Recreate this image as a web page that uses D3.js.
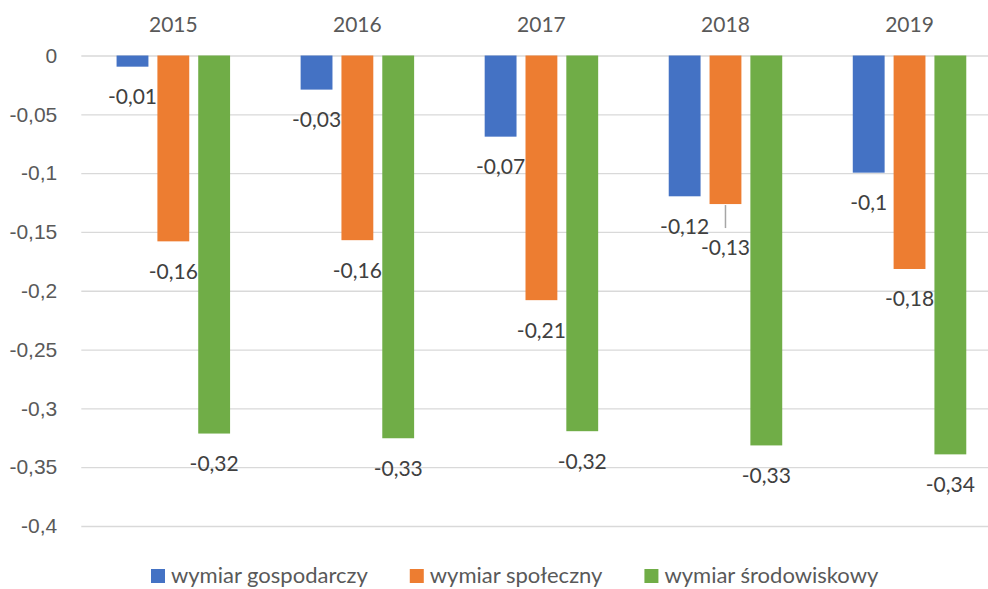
<!DOCTYPE html>
<html>
<head>
<meta charset="utf-8">
<script src="https://cdn.jsdelivr.net/npm/d3@7"></script>
<style>
  body { margin: 0; background: #fff; }
  svg { display: block; font-family: Lato, "Open Sans", sans-serif; }
</style>
</head>
<body>
<svg id="chart" width="988" height="589"></svg>
<script>
// data
const years = ["2015", "2016", "2017", "2018", "2019"];
const seriesNames = ["wymiar gospodarczy", "wymiar społeczny", "wymiar środowiskowy"];
const gospodarczy = [-0.0095, -0.029, -0.069, -0.1197, -0.0996];
const spoleczny = [-0.158, -0.157, -0.208, -0.1263, -0.1815];
const srodowiskowy = [-0.3214, -0.3254, -0.3194, -0.3315, -0.3391];
const yTicks = [0, -0.05, -0.1, -0.15, -0.2, -0.25, -0.3, -0.35, -0.4];

const colors = ["#4472C4", "#ED7D31", "#70AD47"];
const values = [gospodarczy, spoleczny, srodowiskowy];

const margin = { left: 81.3, top: 55.5 };
const plotW = 920.25, plotH = 470.5;
const fmt = v => String(+v.toFixed(2)).replace(".", ",");

const svg = d3.select("#chart");
const g = svg.append("g").attr("transform", `translate(${margin.left},${margin.top})`);

const x0 = d3.scaleBand().domain(years).range([0, plotW]);
const groupW = 113.5;
const x1 = d3.scaleBand().domain(seriesNames).range([0, groupW]).paddingInner(0.22);
const y = d3.scaleLinear().domain([0, -0.4]).range([0, plotH]);

// y axis + gridlines
const yAxis = g.append("g")
  .call(d3.axisLeft(y).tickValues(yTicks).tickSize(-(988 - margin.left)).tickFormat(fmt));
yAxis.select(".domain").remove();
yAxis.selectAll("line").attr("stroke", "#D9D9D9").attr("stroke-width", 1.3);
yAxis.selectAll("text")
  .attr("x", -24)
  .attr("fill", "#595959")
  .style("font-size", "21px");

// category labels on top
g.append("g").selectAll("text")
  .data(years)
  .join("text")
  .attr("x", d => x0(d) + x0.bandwidth() / 2)
  .attr("y", -31)
  .attr("dy", "0.35em")
  .attr("text-anchor", "middle")
  .attr("fill", "#595959")
  .style("font-size", "21px")
  .text(d => d);

const offset = (x0.bandwidth() - groupW) / 2;

const rows = [];
years.forEach((yr, i) => {
  seriesNames.forEach((s, j) => {
    rows.push({ year: yr, series: s, value: values[j][i], color: colors[j] });
  });
});

const groups = g.append("g");
groups.selectAll("rect")
  .data(rows)
  .join("rect")
  .attr("x", d => x0(d.year) + offset + x1(d.series))
  .attr("y", y(0))
  .attr("width", x1.bandwidth())
  .attr("height", d => y(d.value) - y(0))
  .attr("fill", d => d.color);

// data labels; the 2018 społeczny label was pushed down with a leader line
const isMoved = d => d.year === "2018" && d.series === seriesNames[1];
const labelGap = 30, movedGap = 44;

groups.selectAll("line.leader")
  .data(rows.filter(isMoved))
  .join("line")
  .attr("class", "leader")
  .attr("x1", d => x0(d.year) + offset + x1(d.series) + x1.bandwidth() / 2)
  .attr("x2", d => x0(d.year) + offset + x1(d.series) + x1.bandwidth() / 2)
  .attr("y1", d => y(d.value) + 1)
  .attr("y2", d => y(d.value) + 24)
  .attr("stroke", "#A6A6A6")
  .attr("stroke-width", 1.5);

groups.selectAll("text")
  .data(rows)
  .join("text")
  .attr("x", d => x0(d.year) + offset + x1(d.series) + x1.bandwidth() / 2)
  .attr("y", d => y(d.value) + (isMoved(d) ? movedGap : labelGap))
  .attr("dy", "0.35em")
  .attr("text-anchor", "middle")
  .attr("fill", "#404040")
  .style("font-size", "21px")
  .text(d => fmt(d.value));

// legend
const legend = svg.append("g").attr("transform", "translate(0,575)");
let lx = 151;
seriesNames.forEach((s, j) => {
  legend.append("rect")
    .attr("x", lx).attr("y", -6)
    .attr("width", 14).attr("height", 14)
    .attr("fill", colors[j]);
  const t = legend.append("text")
    .attr("x", lx + 20)
    .attr("dy", "0.35em")
    .attr("fill", "#595959")
    .style("font-size", "22px")
    .text(s);
  lx += 20 + t.node().getComputedTextLength() + 42;
});
</script>
</body>
</html>
